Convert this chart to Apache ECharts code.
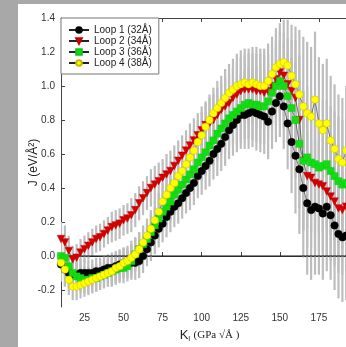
<!DOCTYPE html>
<html><head><meta charset="utf-8">
<script src="https://cdn.jsdelivr.net/npm/echarts@6.0.0/dist/echarts.min.js"></script>
<style>
html,body{margin:0;padding:0;background:#a8a8a8;}
#wrap{position:relative;width:346px;height:347px;background:#a8a8a8;overflow:hidden}
#paper{position:absolute;left:18px;top:4px;width:328px;height:343px;background:#fff}
#chart{position:absolute;left:0;top:0;width:346px;height:347px}
</style></head>
<body><div id="wrap"><div id="paper"></div><div id="chart"></div></div>
<script>
const names = ['Loop 1 (32Å)', 'Loop 2 (34Å)', 'Loop 3 (36Å)', 'Loop 4 (38Å)'];
const xTicks = [25, 50, 75, 100, 125, 150, 175, 200];
const yTicks = [-0.2, 0.0, 0.2, 0.4, 0.6, 0.8, 1.0, 1.2, 1.4];
const kI = [10,12.5,15,17.5,20,22.5,25,27.5,30,32.5,35,37.5,40,42.5,45,47.5,50,52.5,55,57.5,
  60,62.5,65,67.5,70,72.5,75,77.5,80,82.5,85,87.5,90,92.5,95,97.5,100,102.5,105,107.5,
  110,112.5,115,117.5,120,122.5,125,127.5,130,132.5,135,137.5,140,142.5,145,147.5,150,152.5,155,157.5,
  160,162.5,165,167.5,170,172.5,175,177.5,180,182.5,185,187.5,190,192.5];
const loop1 = [-0.05,-0.08,-0.10,-0.11,-0.11,-0.10,-0.10,-0.10,-0.10,-0.09,-0.09,-0.08,-0.07,-0.07,-0.06,-0.05,-0.04,-0.04,-0.04,-0.04,
  -0.03,0.00,0.04,0.08,0.12,0.16,0.19,0.23,0.26,0.29,0.31,0.34,0.37,0.40,0.43,0.47,0.50,0.53,0.56,0.60,
  0.63,0.66,0.70,0.74,0.77,0.80,0.83,0.83,0.84,0.85,0.84,0.83,0.82,0.79,0.85,0.90,0.94,0.88,0.78,0.67,
  0.59,0.51,0.40,0.31,0.27,0.29,0.28,0.25,0.29,0.24,0.18,0.13,0.11,0.12];
const loop2 = [0.10,0.08,0.03,-0.02,-0.01,0.02,0.04,0.06,0.08,0.10,0.11,0.13,0.15,0.17,0.18,0.19,0.21,0.22,0.24,0.27,
  0.31,0.34,0.37,0.40,0.42,0.44,0.46,0.48,0.50,0.53,0.56,0.59,0.62,0.65,0.68,0.71,0.74,0.77,0.78,0.80,
  0.83,0.86,0.88,0.90,0.93,0.95,0.97,0.98,0.98,0.98,0.97,0.97,0.96,0.97,1.00,1.04,1.08,1.06,1.01,0.97,
  0.93,0.80,0.56,0.47,0.46,0.43,0.42,0.41,0.38,0.35,0.32,0.28,0.27,0.29];
const loop3 = [0.00,-0.01,-0.06,-0.10,-0.12,-0.13,-0.14,-0.14,-0.13,-0.13,-0.12,-0.11,-0.10,-0.09,-0.08,-0.07,-0.07,-0.06,-0.03,0.01,
  0.04,0.07,0.10,0.14,0.18,0.22,0.26,0.29,0.32,0.36,0.39,0.42,0.45,0.48,0.51,0.55,0.58,0.61,0.65,0.68,
  0.72,0.75,0.78,0.81,0.83,0.85,0.87,0.89,0.90,0.89,0.89,0.88,0.88,0.91,0.96,1.00,1.03,1.00,0.94,0.87,
  0.80,0.66,0.56,0.58,0.55,0.54,0.52,0.53,0.54,0.50,0.47,0.44,0.42,0.43];
const loop4 = [-0.04,-0.08,-0.14,-0.18,-0.18,-0.17,-0.16,-0.15,-0.14,-0.13,-0.12,-0.11,-0.10,-0.09,-0.07,-0.06,-0.04,-0.03,-0.01,0.01,
  0.04,0.08,0.12,0.16,0.21,0.26,0.32,0.36,0.40,0.43,0.47,0.50,0.54,0.58,0.62,0.67,0.71,0.76,0.80,0.84,
  0.87,0.90,0.93,0.96,0.98,1.00,1.01,1.02,1.01,1.02,1.01,1.00,1.00,1.03,1.07,1.11,1.13,1.14,1.12,1.06,
  1.01,0.95,0.88,0.84,0.82,0.92,0.78,0.74,0.78,0.68,0.63,0.57,0.55,0.62];
const errBar = [0.10,0.10,0.09,0.08,0.08,0.08,0.08,0.08,0.08,0.08,0.08,0.08,0.08,0.09,0.09,0.09,0.09,0.09,0.10,0.10,
  0.10,0.10,0.10,0.11,0.11,0.11,0.11,0.12,0.12,0.12,0.12,0.12,0.12,0.13,0.13,0.13,0.14,0.14,0.15,0.15,
  0.16,0.16,0.17,0.17,0.18,0.19,0.20,0.20,0.21,0.21,0.22,0.22,0.22,0.22,0.22,0.23,0.24,0.25,0.27,0.30,
  0.34,0.38,0.41,0.42,0.41,0.40,0.39,0.39,0.38,0.38,0.38,0.38,0.38,0.38];

const loops = [loop1, loop2, loop3, loop4];
const colors = ['#000000', '#d40000', '#12dd12', '#ffff00'];
const borders = ['#000000', '#c00000', '#10c810', '#c8b800'];
const symbols = ['circle', 'triangle', 'rect', 'circle'];
const rots = [0, 180, 0, 0];
const sizes = [7.5, 7.5, 7, 7.5];

const errData = [];
loops.forEach(arr => arr.forEach((v, i) => errData.push([kI[i], v, errBar[i]])));

const chart = echarts.init(document.getElementById('chart'), null, {renderer: 'canvas'});
const font = 'Liberation Sans, Arial, sans-serif';
const series = [{
  type: 'custom',
  data: errData,
  encode: {x: 0, y: 1},
  clip: true,
  z: 1,
  silent: true,
  renderItem: function (params, api) {
    const x = api.value(0), y = api.value(1), e = api.value(2);
    const p1 = api.coord([x, y + e]);
    const p2 = api.coord([x, y - e]);
    return {type: 'line', shape: {x1: p1[0], y1: p1[1], x2: p2[0], y2: p2[1]},
      style: {stroke: '#bdbdbd', lineWidth: 2.2}};
  }
}, {
  type: 'line',
  data: [[10, 0], [200, 0]],
  symbol: 'none',
  lineStyle: {color: '#111', width: 1},
  z: 2,
  silent: true
}];
loops.forEach((arr, k) => {
  series.push({
    name: names[k],
    type: 'line',
    data: arr.map((v, i) => [kI[i], v]),
    symbol: symbols[k],
    symbolRotate: rots[k],
    symbolSize: sizes[k],
    showAllSymbol: true,
    itemStyle: {color: colors[k], borderColor: borders[k], borderWidth: 0.5},
    lineStyle: {color: '#222', width: 0.6},
    z: 3 + k
  });
});

chart.setOption({
  animation: false,
  grid: {left: 61, top: 18, right: -12, bottom: 40, outerBoundsMode: 'none', containLabel: false},
  legend: {
    data: names,
    orient: 'vertical',
    left: 61, top: 18,
    padding: [7, 7, 6, 7],
    itemGap: 1,
    itemWidth: 20, itemHeight: 7,
    backgroundColor: '#fff',
    borderColor: '#777', borderWidth: 1,
    textStyle: {fontSize: 10, color: '#222', fontFamily: font, lineHeight: 10}
  },
  xAxis: [{
    type: 'value', min: 10, max: 200,
    name: '{k|K}{sub|I} {s|(GPa √Å )}',
    nameLocation: 'middle', nameGap: 20,
    nameTextStyle: {
      rich: {
        k: {fontSize: 13, fontFamily: font, color: '#222', lineHeight: 16},
        sub: {fontSize: 7, fontFamily: font, color: '#222', lineHeight: 8, verticalAlign: 'bottom'},
        s: {fontSize: 11, fontFamily: 'Liberation Serif, Times New Roman, serif', color: '#222', lineHeight: 16}
      }
    },
    axisLine: {lineStyle: {color: '#444', width: 1}},
    axisTick: {inside: true, length: 4, customValues: xTicks, lineStyle: {color: '#444'}},
    axisLabel: {customValues: xTicks, fontSize: 10, color: '#333', margin: 6, fontFamily: font},
    splitLine: {show: false}
  }, {
    type: 'value', min: 10, max: 200, position: 'top',
    axisLine: {lineStyle: {color: '#444', width: 1}},
    axisTick: {inside: true, length: 4, customValues: xTicks, lineStyle: {color: '#444'}},
    axisLabel: {show: false},
    splitLine: {show: false}
  }],
  yAxis: [{
    type: 'value', min: -0.3, max: 1.4,
    name: 'J (eV/Å²)',
    nameLocation: 'middle', nameGap: 21,
    nameMoveOverlap: false,
    nameTextStyle: {fontSize: 12, color: '#222', fontFamily: font},
    axisLine: {lineStyle: {color: '#444', width: 1}},
    axisTick: {inside: true, length: 4, customValues: yTicks, lineStyle: {color: '#444'}},
    axisLabel: {customValues: yTicks, fontSize: 10, color: '#333', margin: 6, fontFamily: font,
      formatter: v => v.toFixed(1)},
    splitLine: {show: false}
  }],
  series: series
});
</script></body></html>
